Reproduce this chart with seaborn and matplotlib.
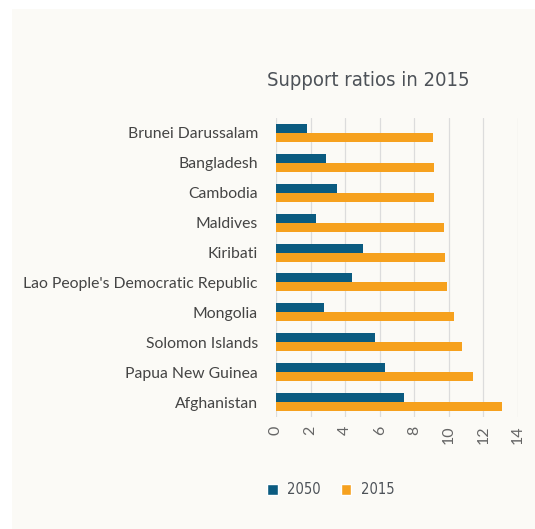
import numpy as np
import pandas as pd
import matplotlib
matplotlib.use("Agg")
import matplotlib.pyplot as plt
import seaborn as sns

# Data
countries = [
    "Brunei Darussalam", "Bangladesh", "Cambodia", "Maldives", "Kiribati",
    "Lao People's Democratic Republic", "Mongolia", "Solomon Islands",
    "Papua New Guinea", "Afghanistan",
]
ratio_2050 = [1.8, 2.9, 3.5, 2.3, 5.05, 4.4, 2.8, 5.7, 6.3, 7.4]
ratio_2015 = [9.1, 9.13, 9.13, 9.7, 9.77, 9.92, 10.3, 10.75, 11.42, 13.07]
series = ["2050", "2015"]
colors = ["#0b5b80", "#f6a11e"]
x_ticks = [0, 2, 4, 6, 8, 10, 12, 14]

df = pd.DataFrame({
    "country": countries * 2,
    "year": ["2050"] * len(countries) + ["2015"] * len(countries),
    "ratio": ratio_2050 + ratio_2015,
})

sns.set_theme(style="white")
plt.rcParams["font.family"] = ["Lato", "DejaVu Sans"]

fig = plt.figure(figsize=(5.35, 5.29), dpi=100)
fig.patch.set_facecolor("white")
# off-white panel behind the chart
fig.patches.append(plt.Rectangle((12 / 535, 0), 1, 1 - 9 / 529, transform=fig.transFigure,
                                 facecolor="#fbfaf6", edgecolor="none", zorder=-5))

ax = fig.add_axes([276 / 535, 1 - 417 / 529, 242 / 535, 299 / 529])
ax.set_facecolor("none")
sns.barplot(data=df, y="country", x="ratio", hue="year", hue_order=series,
            palette=colors, order=countries, width=0.6, orient="h",
            saturation=1, linewidth=0, ax=ax, legend=False)

ax.set_xlim(0, 14)
ax.set_xticks(x_ticks)
ax.set_xticklabels([str(t) for t in x_ticks], rotation=90, color="#666666", fontsize=11.5)
ax.tick_params(axis="y", labelsize=11.3, labelcolor="#444444", length=0, pad=13)
ax.tick_params(axis="x", length=0, pad=6)
ax.set_xlabel("")
ax.set_ylabel("")
ax.xaxis.grid(True, color="#dcdcdc", linewidth=0.9)
ax.set_axisbelow(True)
for s in ax.spines.values():
    s.set_visible(False)

fig.text(368 / 535, 1 - 80 / 529, "Support ratios in 2015", ha="center", va="center",
         fontsize=14.5, color="#4d5258", family="DejaVu Sans", fontstretch="condensed")

handles = [plt.Rectangle((0, 0), 1, 1, facecolor=c) for c in colors]
fig.legend(handles, series, loc="center", bbox_to_anchor=(331 / 535, 1 - 490 / 529),
           ncol=2, frameon=False, handlelength=0.7, handleheight=0.7, columnspacing=1.4,
           handletextpad=0.65, prop={"family": "DejaVu Sans", "stretch": "condensed", "size": 10.5})
for t in fig.legends[0].get_texts():
    t.set_color("#4d5258")

fig.savefig("out.png", dpi=100)
